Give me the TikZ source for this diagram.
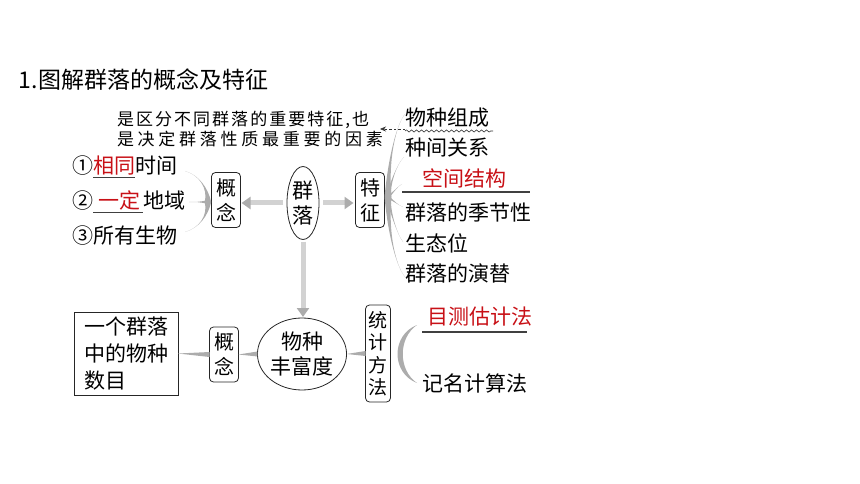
\documentclass[tikz,border=0pt]{standalone}
\usepackage{fontspec}
\setmainfont{Noto Sans CJK SC}
\usetikzlibrary{shapes.geometric, arrows.meta, calc, decorations.pathmorphing}
\definecolor{ansred}{RGB}{200,16,22}
\newcommand\fsz[2]{\fontsize{#1}{#2}\selectfont}
\newcommand\blankul[2]{\rlap{\raisebox{-4pt}{\textcolor{black!75}{\rule{#1}{1.1pt}}}}#2}
\newcommand\taper[5]{\fill[brgray] ($#1+#5$) .. controls #2 and #3 .. #4 .. controls #3 and #2 .. ($#1-#5$) -- cycle;}
\tikzset{
  every node/.style={inner sep=0pt, outer sep=0pt},
  lst/.style={anchor=west, font=\fsz{21}{25}},
  rbox/.style={draw=black!85, rounded corners=4pt, line width=0.8pt, minimum width=29pt, minimum height=55pt, align=center, font=\fsz{20}{25}},
  ell/.style={ellipse, draw=black!85, line width=0.8pt, align=center, font=\fsz{21}{25}},
  garrow/.style={draw=gray!35, line width=5pt, -{Triangle[length=9pt,width=12pt,color=gray!65]}},
  brgray/.style={fill=gray!65},
  ulline/.style={draw=black!75, line width=1.1pt},
}
\begin{document}
\begin{tikzpicture}[x=1pt,y=-1pt]
\useasboundingbox (0,0) rectangle (860,484);
% title and note
\node[anchor=west, font=\fsz{23}{28}] (title) at (19,80) {1.图解群落的概念及特征};
\node[anchor=west, font={\fsz{17}{20}\addfontfeature{LetterSpace=12}}] (note1) at (117,120) {是区分不同群落的重要特征,也};
\node[anchor=west, font={\fsz{17}{20}\addfontfeature{LetterSpace=22}}] (note2) at (117,139) {是决定群落性质最重要的因素};
% left list
\node[lst] (l1) at (72,167) {①\blankul{42pt}{\textcolor{ansred}{相同}}时间};
\node[lst] (l2) at (72,202) {②\blankul{50pt}{\hspace{5pt}\textcolor{ansred}{一定}\hspace{3pt}}地域};
\node[lst] (l3) at (72,236) {③所有生物};
% upper boxes
\node[rbox] (gn1) at (226,200) {概\\念};
\node[ell, minimum width=32pt, minimum height=73pt] (qun) at (303,203) {群\\落};
\node[rbox] (tz) at (370,200) {特\\征};
% right list
\node[lst] (r1) at (405,118) {物种组成};
\node[lst] (r2) at (405,148) {种间关系};
\node[lst, text=ansred] (r3) at (422,178) {空间结构};
\node[lst] (r4) at (405,212) {群落的季节性};
\node[lst] (r5) at (405,243) {生态位};
\node[lst] (r6) at (405,273) {群落的演替};
\coordinate (u3a) at (402,192);
\coordinate (u3b) at (530,192);
\draw[ulline] (u3a) -- (u3b);
% wavy underline and dashed arrow
\coordinate (wv1) at (405,131);
\coordinate (wv2) at (493,131);
\draw[black!80, line width=0.6pt, decorate, decoration={snake, amplitude=1.1pt, segment length=5pt}] (wv1) -- (wv2);
\coordinate (atip) at (380,129);
\draw[black!80, line width=0.6pt, dash pattern=on 2.5pt off 2pt, -{Stealth[length=6pt,width=5pt]}] (wv1 |- atip) -- (atip);
% lower part
\node[draw=black!85, line width=0.8pt, minimum width=104pt, minimum height=83pt, align=left, font=\fsz{21}{27}] (def) at (126,353.5) {一个群落\\中的物种\\数目};
\node[rbox] (gn2) at (224,354.5) {概\\念};
\node[ell, minimum width=89pt, minimum height=72pt] (fy) at (302,354) {物种\\丰富度};
\node[rbox, minimum width=25pt, minimum height=97pt, font=\fsz{19}{22.5}] (tj) at (378,353.5) {统\\计\\方\\法};
\node[lst, text=ansred] (m1) at (427,317) {目测估计法};
\coordinate (u4a) at (422,332);
\coordinate (u4b) at (527,332);
\draw[ulline] (u4a) -- (u4b);
\node[lst] (m2) at (422,383) {记名计算法};
% arrows
\draw[garrow, shorten <=4pt, shorten >=1pt] (qun.west) -- (qun.west -| gn1.east);
\draw[garrow, shorten <=4pt, shorten >=2pt] (qun.east) -- (qun.east -| tz.west);
\draw[garrow, shorten <=2pt, shorten >=1pt] (qun.south) -- (qun.south |- fy.north);
% lower wedges
\fill[brgray] (def.east) -- ([yshift=2.5pt]gn2.west) -- ([yshift=-2.5pt]gn2.west) -- cycle;
\fill[brgray] (gn2.east) -- ([yshift=2.5pt]fy.west) -- ([yshift=-2.5pt]fy.west) -- cycle;
\fill[brgray] (fy.east) -- ([yshift=2.5pt]tj.west) -- ([yshift=-2.5pt]tj.west) -- cycle;
% left bracket
\coordinate (hL) at (208,202);
\coordinate (eL1) at (185,171);
\coordinate (eL2) at (189,202);
\coordinate (eL3) at (185,232);
\taper{(hL)}{($(hL)+(0,-14)$)}{($(eL1)+(14,4)$)}{(eL1)}{(3.2,0)}
\taper{(hL)}{($(hL)+(0,14)$)}{($(eL3)+(14,-4)$)}{(eL3)}{(3.2,0)}
\taper{(hL)}{($(hL)+(-6,0)$)}{($(eL2)+(6,0)$)}{(eL2)}{(0,2.2)}
% right fan
\coordinate (hR) at (388,197);
\coordinate (eR1) at (405,114);
\coordinate (eR2) at (404,157);
\coordinate (eR3) at (402,184);
\coordinate (eR4) at (403,207);
\coordinate (eR5) at (403,242);
\coordinate (eR6) at (405,277);
\taper{(hR)}{(388,160)}{(396,125)}{(eR1)}{(3.5,0)}
\taper{(hR)}{(390,185)}{(396,165)}{(eR2)}{(3,0)}
\taper{(hR)}{(394,192)}{(398,186)}{(eR3)}{(0,2.2)}
\taper{(hR)}{(394,201)}{(398,205)}{(eR4)}{(0,2.2)}
\taper{(hR)}{(390,210)}{(396,232)}{(eR5)}{(3,0)}
\taper{(hR)}{(388,234)}{(396,266)}{(eR6)}{(3.5,0)}
% statistics bracket
\coordinate (bt1) at (417,325);
\coordinate (bt2) at (417,383);
\fill[brgray] (bt1) .. controls (391,335) and (391,373) .. (bt2) .. controls (398,370) and (398,338) .. (bt1) -- cycle;
\end{tikzpicture}
\end{document}
